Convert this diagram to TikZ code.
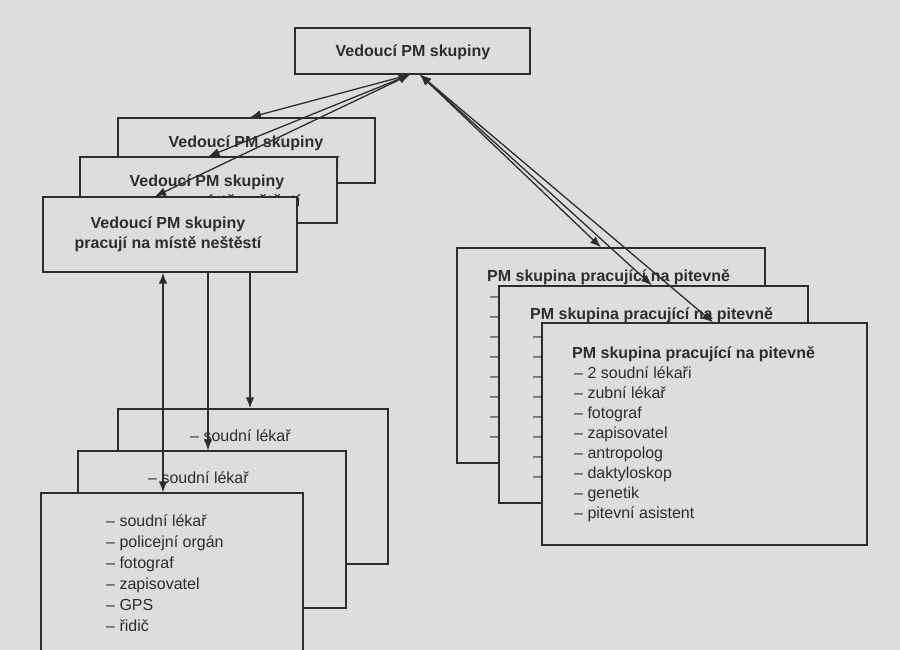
\documentclass[tikz,border=0pt]{standalone}
\usepackage{fontspec}
\setmainfont{Liberation Sans}
\usetikzlibrary{arrows.meta}
\definecolor{paper}{RGB}{221,221,219}
\definecolor{ink}{RGB}{45,45,45}
\begin{document}
\begin{tikzpicture}[x=1pt,y=-1pt,
  box/.style={draw=ink, line width=1.3pt, fill=paper, inner sep=0pt, rectangle},
  ttl/.style={font=\fontsize{16}{20}\selectfont\bfseries, text=ink, inner sep=0pt},
  itm/.style={font=\fontsize{16}{20}\selectfont, text=ink, inner sep=0pt, anchor=base west},
  conn/.style={draw=ink, line width=1.3pt, {Latex[length=11pt,width=8.5pt]}-{Latex[length=11pt,width=8.5pt]}},
  down/.style={draw=ink, line width=1.3pt, -{Latex[length=11pt,width=8.5pt]}}]
\useasboundingbox (0,0) rectangle (900,650);
\clip (0,0) rectangle (900,650);
\fill[paper] (0,0) rectangle (900,650);

% top box
\node[box, minimum width=235pt, minimum height=46pt] (top) at (412.5,51) {};
\node[ttl, anchor=base] (toptxt) at (413,57) {Vedoucí PM skupiny};

% leader stack
\node[box, minimum width=257pt, minimum height=65pt] (L3) at (246.5,150.5) {};
\node[ttl, anchor=base] (L3a) at (246,148) {Vedoucí PM skupiny};
\node[ttl, anchor=base] (L3b) at (246,168) {pracují na místě neštěstí};
\node[box, minimum width=257pt, minimum height=66pt] (L2) at (208.5,190) {};
\node[ttl, anchor=base] (L2a) at (207,186) {Vedoucí PM skupiny};
\node[ttl, anchor=base] (L2b) at (207,206) {pracují na místě neštěstí};
\node[box, minimum width=254pt, minimum height=75pt] (L1) at (170,234.5) {};
\node[ttl, anchor=base] (L1a) at (168,228) {Vedoucí PM skupiny};
\node[ttl, anchor=base] (L1b) at (168,248) {pracují na místě neštěstí};

% bottom-left stack
\node[box, minimum width=270pt, minimum height=155pt] (B3) at (253,486.5) {};
\node[itm] (B3-0) at (190,441) {– soudní lékař};
\node[itm] (B3-1) at (190,462) {– policejní orgán};
\node[box, minimum width=268pt, minimum height=157pt] (B2) at (212,529.5) {};
\node[itm] (B2-0) at (148,483) {– soudní lékař};
\node[itm] (B2-1) at (148,504) {– policejní orgán};
\node[box, minimum width=262pt, minimum height=197pt] (B1) at (172,591.5) {};
\foreach \t [count=\i from 0] in {soudní lékař, policejní orgán, fotograf, zapisovatel, GPS, řidič}
  \node[itm] (B1-\i) at (106,526+21*\i) {– \t};

% right stack
\node[box, minimum width=308pt, minimum height=215pt] (R3) at (611,355.5) {};
\node[ttl, anchor=base west] (R3t) at (487,281) {PM skupina pracující na pitevně};
\foreach \i in {0,...,7}
  \node[itm] (R3-\i) at (490,301+20*\i) {–};
\node[box, minimum width=309pt, minimum height=217pt] (R2) at (653.5,394.5) {};
\node[ttl, anchor=base west] (R2t) at (530,319) {PM skupina pracující na pitevně};
\foreach \i in {0,...,7}
  \node[itm] (R2-\i) at (533,341+20*\i) {–};
\node[box, minimum width=325pt, minimum height=222pt] (R1) at (704.5,434) {};
\node[ttl, anchor=base west] (R1t) at (572,358) {PM skupina pracující na pitevně};
\foreach \t [count=\i from 0] in {2 soudní lékaři, zubní lékař, fotograf, zapisovatel, antropolog, daktyloskop, genetik, pitevní asistent}
  \node[itm] (R1-\i) at (574,378+20*\i) {– \t};

% connectors from the top box
\draw[conn] ([xshift=-2.5pt]top.south) -- ([xshift=3.5pt]L3.north);
\draw[conn] ([xshift=-2.5pt]top.south) -- (L2.north);
\draw[conn] ([xshift=-2.5pt]top.south) -- ([xshift=-15pt]L1.north);
\draw[conn] ([xshift=7.5pt]top.south) -- ([xshift=-10pt]R3.north);
\draw[conn] ([xshift=7.5pt]top.south) -- ([xshift=-1.5pt]R2.north);
\draw[conn] ([xshift=7.5pt]top.south) -- ([xshift=8.5pt]R1.north);

% vertical connectors
\draw[conn] ([xshift=-7pt]L1.south) -- ([xshift=-7pt]L1.south |- B1.north);
\draw[down] ([xshift=38pt]L1.south) -- ([xshift=38pt]L1.south |- B2.north);
\draw[down] ([xshift=80pt]L1.south) -- ([xshift=80pt]L1.south |- B3.north);
\end{tikzpicture}
\end{document}
